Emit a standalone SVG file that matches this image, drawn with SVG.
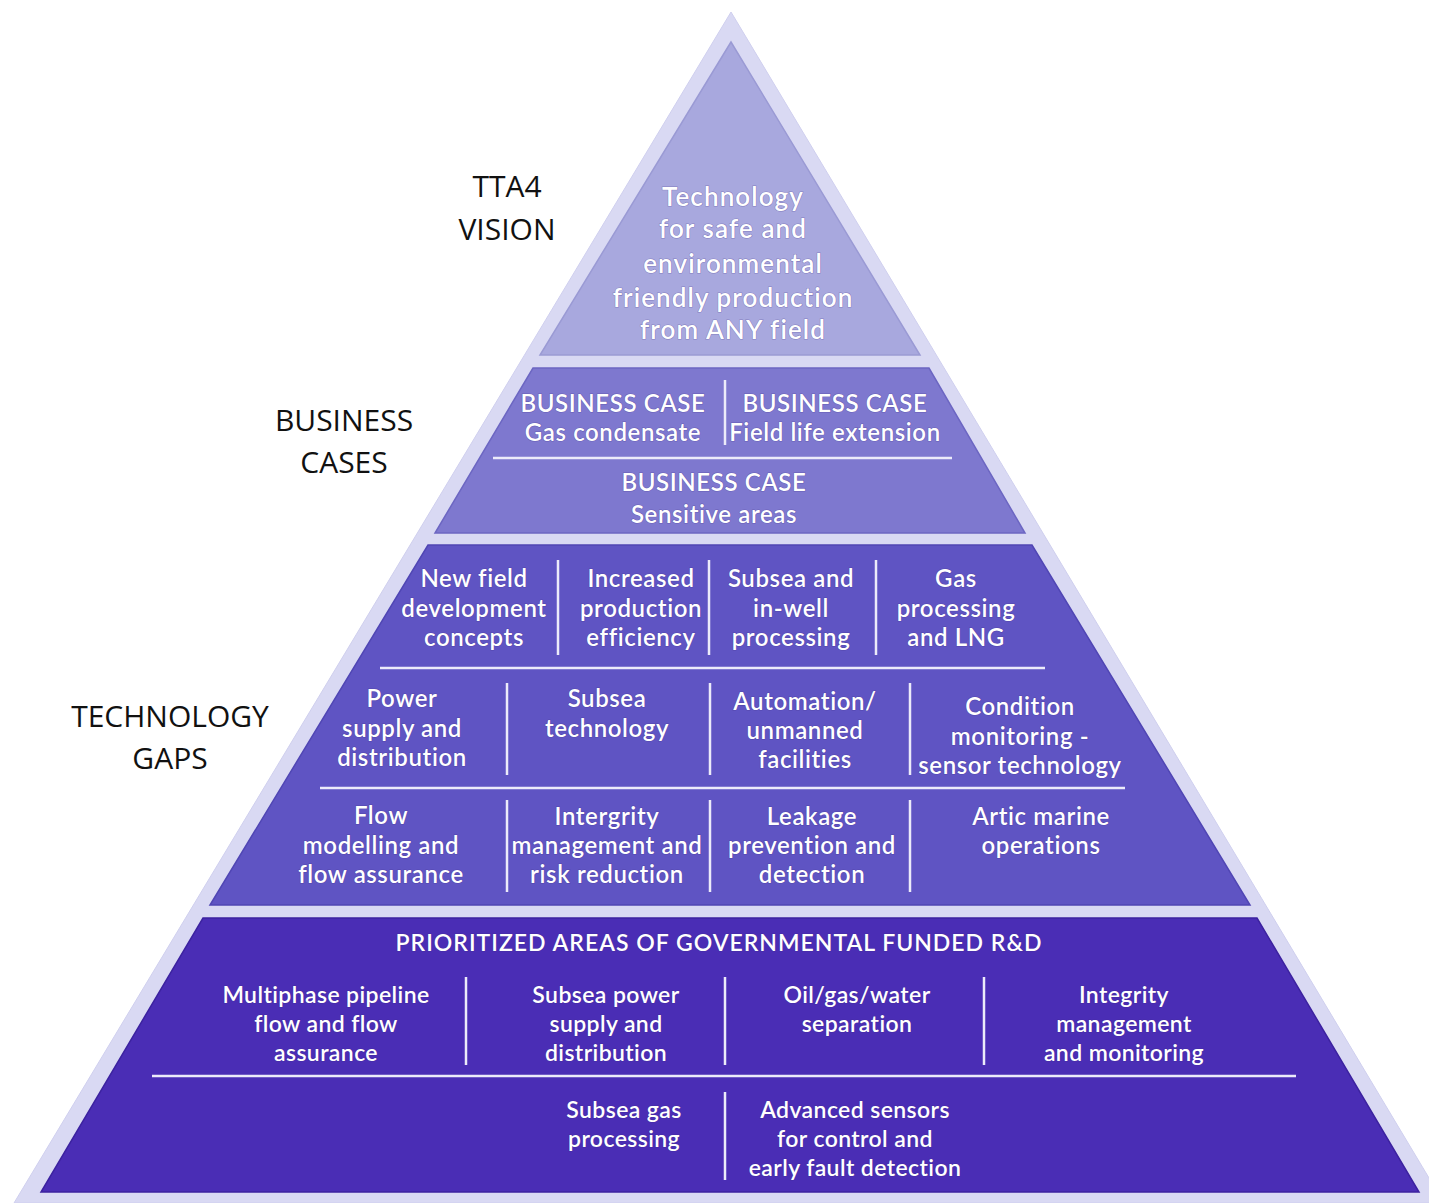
<svg xmlns="http://www.w3.org/2000/svg" width="1429" height="1203" viewBox="0 0 1429 1203">
<style>
.lbl{font-family:"Open Sans","Noto Sans",sans-serif;fill:#111;font-size:30px;text-anchor:middle}
.t{font-family:Lato,"Open Sans",sans-serif;font-weight:600;fill:#fff;text-anchor:middle;stroke:#3a2a80;stroke-opacity:0.35;stroke-width:1.2px;paint-order:stroke}
.s26{font-size:26px;letter-spacing:1.1px}
.s24{font-size:24px;letter-spacing:0.6px}
.s23{font-size:23px;letter-spacing:0.4px}
.hdr{letter-spacing:1px}
.div{stroke:#ecebfa;stroke-width:2.5;fill:none}
.band{stroke-width:1.5}
</style>
<rect width="1429" height="1203" fill="#ffffff"/>
<g id="outer">
<polygon points="731,12 14,1203 1444,1203" fill="#d9d9f3" stroke="#cfcfee" stroke-width="1"/>
</g>
<g id="tier-vision">
<polygon class="band" points="731,42 540,355 920,355" fill="#a8a8de" stroke="#9a9ad4"/>
<text class="t s26" x="733" y="206">Technology</text>
<text class="t s26" x="733" y="238">for safe and</text>
<text class="t s26" x="733" y="273">environmental</text>
<text class="t s26" x="733" y="307">friendly production</text>
<text class="t s26" x="733" y="339">from ANY field</text>
</g>
<g id="tier-business">
<polygon class="band" points="533,368 929,368 1025,533 435,533" fill="#7e78cf" stroke="#6c66c2"/>
<text class="t s24" x="613" y="412">BUSINESS CASE</text>
<text class="t s24" x="613" y="441">Gas condensate</text>
<text class="t s24" x="835" y="412">BUSINESS CASE</text>
<text class="t s24" x="835" y="441">Field life extension</text>
<text class="t s24" x="714" y="491">BUSINESS CASE</text>
<text class="t s24" x="714" y="523">Sensitive areas</text>
</g>
<g id="tier-technology">
<polygon class="band" points="428,545 1032,545 1250,905 210,905" fill="#5f54c3" stroke="#5046b4"/>
<text class="t s24" x="474" y="587">New field</text>
<text class="t s24" x="474" y="617">development</text>
<text class="t s24" x="474" y="646">concepts</text>
<text class="t s24" x="641" y="587">Increased</text>
<text class="t s24" x="641" y="617">production</text>
<text class="t s24" x="641" y="646">efficiency</text>
<text class="t s24" x="791" y="587">Subsea and</text>
<text class="t s24" x="791" y="617">in-well</text>
<text class="t s24" x="791" y="646">processing</text>
<text class="t s24" x="956" y="587">Gas</text>
<text class="t s24" x="956" y="617">processing</text>
<text class="t s24" x="956" y="646">and LNG</text>
<text class="t s24" x="402" y="707">Power</text>
<text class="t s24" x="402" y="737">supply and</text>
<text class="t s24" x="402" y="766">distribution</text>
<text class="t s24" x="607" y="707">Subsea</text>
<text class="t s24" x="607" y="737">technology</text>
<text class="t s24" x="805" y="710">Automation/</text>
<text class="t s24" x="805" y="739">unmanned</text>
<text class="t s24" x="805" y="768">facilities</text>
<text class="t s24" x="1020" y="715">Condition</text>
<text class="t s24" x="1020" y="745">monitoring -</text>
<text class="t s24" x="1020" y="774">sensor technology</text>
<text class="t s24" x="381" y="824">Flow</text>
<text class="t s24" x="381" y="854">modelling and</text>
<text class="t s24" x="381" y="883">flow assurance</text>
<text class="t s24" x="607" y="825">Intergrity</text>
<text class="t s24" x="607" y="854">management and</text>
<text class="t s24" x="607" y="883">risk reduction</text>
<text class="t s24" x="812" y="825">Leakage</text>
<text class="t s24" x="812" y="854">prevention and</text>
<text class="t s24" x="812" y="883">detection</text>
<text class="t s24" x="1041" y="825">Artic marine</text>
<text class="t s24" x="1041" y="854">operations</text>
</g>
<g id="tier-rnd">
<polygon class="band" points="203,918 1257,918 1419,1192 41,1192" fill="#4a2db5" stroke="#3c22a0"/>
<text class="t s23 hdr" x="719" y="951">PRIORITIZED AREAS OF GOVERNMENTAL FUNDED R&amp;D</text>
<text class="t s23" x="326" y="1003">Multiphase pipeline</text>
<text class="t s23" x="326" y="1032">flow and flow</text>
<text class="t s23" x="326" y="1061">assurance</text>
<text class="t s23" x="606" y="1003">Subsea power</text>
<text class="t s23" x="606" y="1032">supply and</text>
<text class="t s23" x="606" y="1061">distribution</text>
<text class="t s23" x="857" y="1003">Oil/gas/water</text>
<text class="t s23" x="857" y="1032">separation</text>
<text class="t s23" x="1124" y="1003">Integrity</text>
<text class="t s23" x="1124" y="1032">management</text>
<text class="t s23" x="1124" y="1061">and monitoring</text>
<text class="t s23" x="624" y="1118">Subsea gas</text>
<text class="t s23" x="624" y="1147">processing</text>
<text class="t s23" x="855" y="1118">Advanced sensors</text>
<text class="t s23" x="855" y="1147">for control and</text>
<text class="t s23" x="855" y="1176">early fault detection</text>
</g>
<g id="dividers">
<line class="div" x1="725" y1="380" x2="725" y2="445"/>
<line class="div" x1="493" y1="458" x2="952" y2="458"/>
<line class="div" x1="558" y1="560" x2="558" y2="655"/>
<line class="div" x1="709" y1="560" x2="709" y2="655"/>
<line class="div" x1="876" y1="560" x2="876" y2="655"/>
<line class="div" x1="380" y1="668" x2="1045" y2="668"/>
<line class="div" x1="507" y1="683" x2="507" y2="775"/>
<line class="div" x1="710" y1="683" x2="710" y2="775"/>
<line class="div" x1="910" y1="683" x2="910" y2="775"/>
<line class="div" x1="320" y1="788" x2="1125" y2="788"/>
<line class="div" x1="507" y1="800" x2="507" y2="892"/>
<line class="div" x1="710" y1="800" x2="710" y2="892"/>
<line class="div" x1="910" y1="800" x2="910" y2="892"/>
<line class="div" x1="466" y1="977" x2="466" y2="1065"/>
<line class="div" x1="725" y1="977" x2="725" y2="1065"/>
<line class="div" x1="984" y1="977" x2="984" y2="1065"/>
<line class="div" x1="152" y1="1076" x2="1296" y2="1076"/>
<line class="div" x1="725" y1="1092" x2="725" y2="1180"/>
</g>
<g id="labels">
<text class="lbl" x="507" y="197">TTA4</text>
<text class="lbl" x="507" y="240">VISION</text>
<text class="lbl" x="344" y="431">BUSINESS</text>
<text class="lbl" x="344" y="473">CASES</text>
<text class="lbl" x="170" y="727">TECHNOLOGY</text>
<text class="lbl" x="170" y="769">GAPS</text>
</g>
</svg>
